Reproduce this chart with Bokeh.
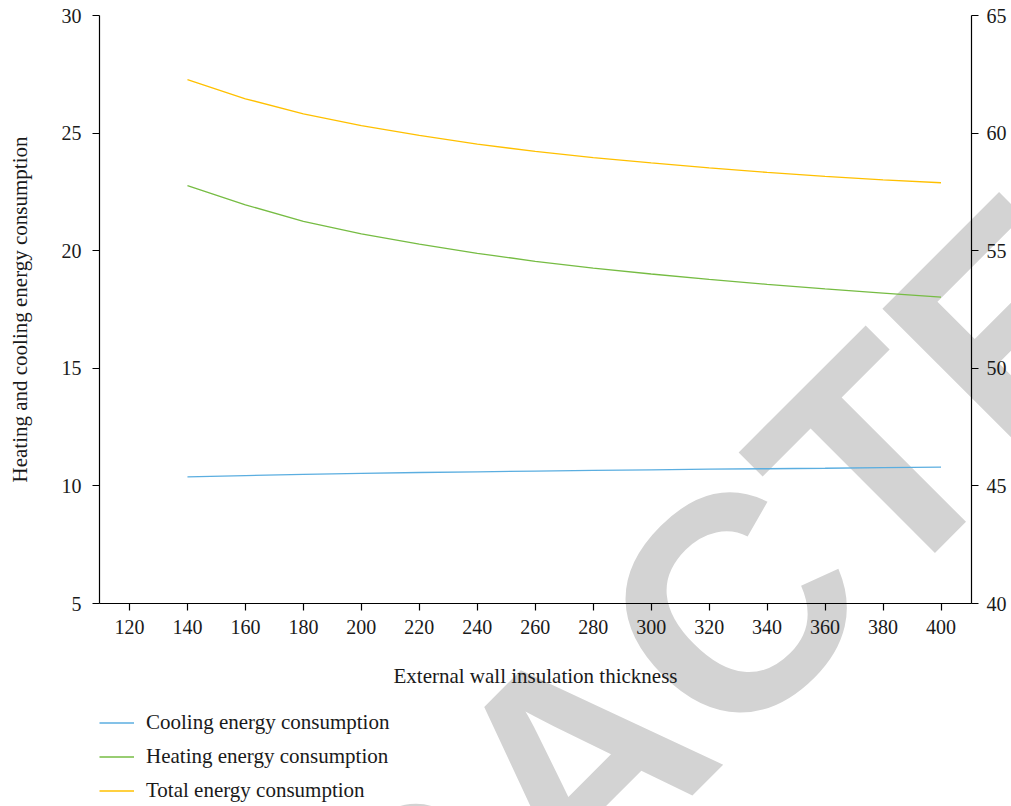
import math
from bokeh.plotting import figure
from bokeh.models import Range1d, LinearAxis, FixedTicker, Legend, LegendItem, Label
from bokeh.embed import file_html
from bokeh.resources import INLINE

# ---- data ----
thickness = [140, 160, 180, 200, 220, 240, 260, 280, 300, 320, 340, 360, 380, 400]
cooling = [10.38, 10.44, 10.49, 10.53, 10.57, 10.60, 10.63, 10.66, 10.68, 10.71, 10.73, 10.75, 10.78, 10.80]
heating = [22.77, 21.95, 21.25, 20.72, 20.28, 19.89, 19.55, 19.26, 19.01, 18.78, 18.57, 18.38, 18.20, 18.03]
total = [62.27, 61.46, 60.82, 60.32, 59.90, 59.53, 59.22, 58.96, 58.73, 58.52, 58.33, 58.16, 58.01, 57.89]

x_ticks = [120, 140, 160, 180, 200, 220, 240, 260, 280, 300, 320, 340, 360, 380, 400]
left_ticks = [5, 10, 15, 20, 25, 30]
right_ticks = [40, 45, 50, 55, 60, 65]

series_labels = ["Cooling energy consumption", "Heating energy consumption", "Total energy consumption"]
series_colors = ["#5BAEE0", "#76BC43", "#FFC000"]

x_title = "External wall insulation thickness"
y_title = "Heating and cooling energy consumption"
stamp = "RETRACTED"

SERIF = "Liberation Serif"
W, H = 1011, 806

# axis extents (data) and where the axes sit
X_LO, X_HI = 109.65, 410.52
YL_LO, YL_HI = 5, 30
YR_LO, YR_HI = 40, 65

# plot frame covers the whole canvas; axes are pinned at fixed data locations
p = figure(width=W, height=H, output_backend="svg", toolbar_location=None, title=None,
           x_range=Range1d(75.492, 424.321), y_range=Range1d(-3.631, 30.638),
           min_border=0, min_border_left=0, min_border_right=0,
           min_border_top=0, min_border_bottom=0)
p.extra_y_ranges = {"total": Range1d(31.369, 65.638)}
p.outline_line_color = None
p.background_fill_color = "white"
p.border_fill_color = "white"
p.xgrid.visible = False
p.ygrid.visible = False

right_axis = LinearAxis(y_range_name="total")
p.add_layout(right_axis, "right")

def style_axis(ax, ticks, standoff, bounds, loc):
    ax.ticker = FixedTicker(ticks=ticks)
    ax.bounds = bounds
    ax.fixed_location = loc
    ax.axis_line_color = "black"
    ax.axis_line_width = 1.2
    ax.major_tick_line_color = "black"
    ax.major_tick_line_width = 1.2
    ax.major_tick_in = 0
    ax.major_tick_out = 7
    ax.minor_tick_line_color = None
    ax.major_label_text_font = SERIF
    ax.major_label_text_font_size = "20px"
    ax.major_label_text_color = "#1a1a1a"
    ax.major_label_standoff = standoff
    ax.axis_label_text_font = SERIF
    ax.axis_label_text_font_size = "21px"
    ax.axis_label_text_font_style = "normal"
    ax.axis_label_text_color = "#1a1a1a"

style_axis(p.xaxis[0], x_ticks, 9, (X_LO, X_HI), YL_LO)
style_axis(p.yaxis[0], left_ticks, 11, (YL_LO, YL_HI), X_LO)
style_axis(right_axis, right_ticks, 8, (YR_LO, YR_HI), X_HI)
p.xaxis[0].axis_label = x_title
p.xaxis[0].axis_label_standoff = 27
p.yaxis[0].axis_label = y_title
p.yaxis[0].axis_label_standoff = 27

# diagonal stamp, drawn beneath the data and axes
p.add_layout(Label(x=274.19, y=-1.751, text=stamp, angle=math.pi / 4,
                   text_align="center", text_baseline="alphabetic",
                   text_font="Liberation Sans", text_font_style="bold",
                   text_font_size="305px", text_color="#d3d3d3", level="underlay"))

r_c = p.line(thickness, cooling, line_color=series_colors[0], line_width=1.3)
r_h = p.line(thickness, heating, line_color=series_colors[1], line_width=1.3)
r_t = p.line(thickness, total, line_color=series_colors[2], line_width=1.3, y_range_name="total")

legend = Legend(items=[LegendItem(label=series_labels[0], renderers=[r_c]),
                       LegendItem(label=series_labels[1], renderers=[r_h]),
                       LegendItem(label=series_labels[2], renderers=[r_t])],
                location=(99, 3.5), orientation="vertical",
                glyph_width=35, glyph_height=25, label_height=25, label_standoff=12,
                spacing=9, padding=0, margin=0,
                background_fill_alpha=0, border_line_color=None,
                label_text_font=SERIF, label_text_font_size="21px", label_text_color="#1a1a1a")
p.add_layout(legend)

open("out.html", "w").write(file_html(p, INLINE))
